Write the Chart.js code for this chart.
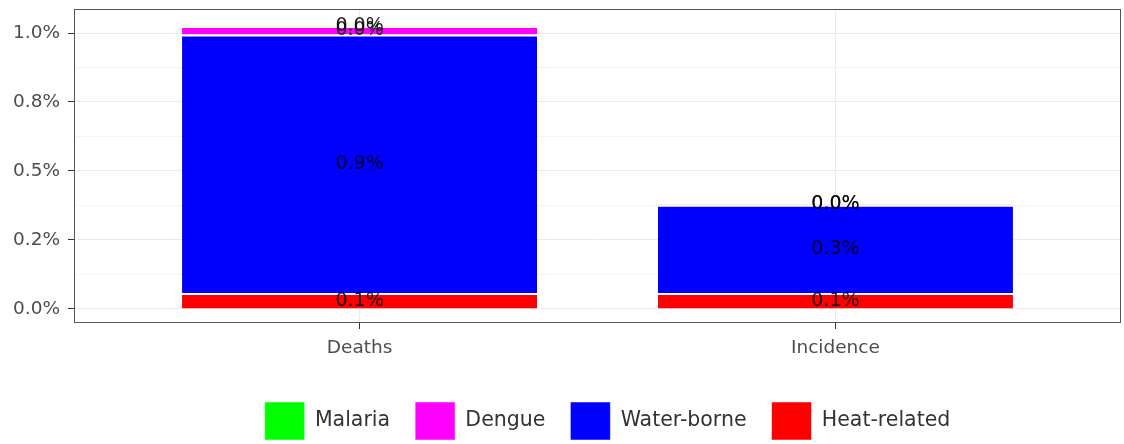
<!DOCTYPE html>
<html>
<head>
<meta charset="utf-8">
<script src="https://cdn.jsdelivr.net/npm/chart.js@4"></script>
<style>
  body { margin: 0; background: #fff; }
  #wrap { width: 1124px; height: 444px; }
</style>
</head>
<body>
<div id="wrap"><canvas id="chart" width="1124" height="444"></canvas></div>
<script>
// Data (percent values)
var categories = ['Deaths', 'Incidence'];
var heatRelated = [0.058, 0.058];
var waterBorne = [0.937, 0.320];
var dengue = [0.03, 0.001];
var malaria = [0.002, 0.0005];

var yTickValues = [0, 0.25, 0.5, 0.75, 1.0];
var yTickLabels = ['0.0%', '0.2%', '0.5%', '0.8%', '1.0%'];
var yMinorValues = [0.125, 0.375, 0.625, 0.875];

function toPoints(arr) {
  return arr.map(function (v, i) { return {x: i + 1, y: v}; });
}

function makeSet(label, values, color) {
  return {
    label: label,
    data: toPoints(values),
    backgroundColor: color,
    borderColor: '#ffffff',
    borderWidth: {top: 2, left: 0, right: 0, bottom: 0},
    borderSkipped: false,
    categoryPercentage: 1.0,
    barPercentage: 0.746
  };
}

// stacking order: first dataset sits at the bottom
var data = {
  datasets: [
    makeSet('Heat-related', heatRelated, '#ff0000'),
    makeSet('Water-borne', waterBorne, '#0000ff'),
    makeSet('Dengue', dengue, '#ff00ff'),
    makeSet('Malaria', malaria, '#00ff00')
  ]
};

// value labels in the middle of each segment
var segmentLabels = {
  id: 'segmentLabels',
  afterDatasetsDraw: function (chart) {
    var ctx = chart.ctx;
    ctx.save();
    ctx.font = '19px "DejaVu Sans"';
    ctx.fillStyle = 'rgba(0,0,0,0.88)';
    ctx.textAlign = 'center';
    ctx.textBaseline = 'middle';
    chart.data.datasets.forEach(function (ds, di) {
      chart.getDatasetMeta(di).data.forEach(function (el, i) {
        var v = ds.data[i].y;
        ctx.fillText(v.toFixed(1) + '%', el.x, (el.y + el.base) / 2);
      });
    });
    ctx.restore();
  }
};

// panel border like theme_bw, and legend centred a bit right like ggplot
var panelBorder = {
  id: 'panelBorder',
  afterLayout: function (chart) {
    chart.legend.left += 47;
    chart.legend.right += 47;
  },
  afterDraw: function (chart) {
    var a = chart.chartArea;
    var ctx = chart.ctx;
    ctx.save();
    ctx.strokeStyle = '#555';
    ctx.lineWidth = 1;
    ctx.strokeRect(a.left + 0.5, a.top + 0.5, a.right - a.left - 1, a.bottom - a.top - 1);
    ctx.restore();
  }
};

Chart.defaults.font.family = '"DejaVu Sans", sans-serif';

var config = {
  type: 'bar',
  data: data,
  options: {
    responsive: false,
    animation: false,
    layout: { padding: {left: 0, right: 3, top: 9, bottom: -6} },
    scales: {
      x: {
        type: 'linear',
        stacked: true,
        min: 0.4,
        max: 2.6,
        offset: false,
        afterBuildTicks: function (scale) {
          scale.ticks = categories.map(function (c, i) { return {value: i + 1}; });
        },
        afterFit: function (scale) { scale.height = 54; },
        ticks: {
          autoSkip: false,
          color: '#4d4d4d',
          font: {size: 18.5},
          padding: 8,
          callback: function (value) { return categories[value - 1]; }
        },
        grid: { offset: false, color: '#ebebeb', lineWidth: 1, tickLength: 6, tickColor: '#333' },
        border: { display: false }
      },
      y: {
        stacked: true,
        min: -0.051,
        max: 1.087,
        afterBuildTicks: function (scale) {
          var all = yTickValues.concat(yMinorValues).sort(function (a, b) { return a - b; });
          scale.ticks = all.map(function (v) { return {value: v}; });
        },
        afterFit: function (scale) {
          scale.width = 74;
          scale.paddingTop = 0;
          scale.paddingBottom = 0;
        },
        ticks: {
          autoSkip: false,
          color: '#4d4d4d',
          font: {size: 18.5},
          padding: 8,
          callback: function (value) {
            var k = yTickValues.indexOf(value);
            return k >= 0 ? yTickLabels[k] : '';
          }
        },
        grid: {
          tickLength: 6,
          color: function (c) { return yTickValues.indexOf(c.tick.value) >= 0 ? '#ebebeb' : '#f4f4f4'; },
          lineWidth: 1,
          tickColor: function (c) { return yTickValues.indexOf(c.tick.value) >= 0 ? '#333' : 'rgba(0,0,0,0)'; }
        },
        border: { display: false }
      }
    },
    plugins: {
      legend: {
        position: 'bottom',
        reverse: true,
        labels: {
          boxWidth: 40,
          boxHeight: 38,
          padding: 25,
          color: '#333',
          font: {size: 20.5}
        }
      },
      tooltip: { enabled: false }
    }
  },
  plugins: [segmentLabels, panelBorder]
};

var ctx = document.getElementById('chart').getContext('2d');
var myChart = new Chart(ctx, config);
</script>
</body>
</html>
